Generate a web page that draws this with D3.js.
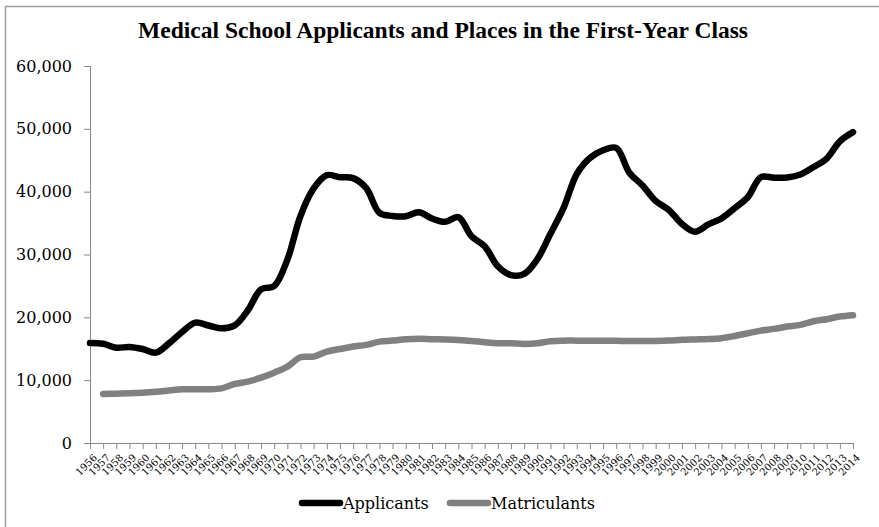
<!DOCTYPE html>
<html><head><meta charset="utf-8">
<script src="https://cdn.jsdelivr.net/npm/d3@7"></script>
<style>body{margin:0;background:#fff}svg{display:block}</style>
</head><body>
<script>
const years = d3.range(1956, 2015).map(String);
const applicants = [15918,15791,15170,15282,14952,14381,15847,17668,19168,18703,18250,18724,21118,24465,24987,29172,36135,40506,42624,42303,42155,40569,36636,36141,36100,36727,35730,35200,35944,32893,31323,28123,26721,26915,29243,33301,37410,42808,45360,46591,46968,43016,40996,38529,37092,34859,33625,34791,35735,37372,39108,42315,42231,42269,42742,43919,45266,48014,49480];
const matriculants = [null,7800,7850,7900,8000,8150,8350,8550,8550,8550,8700,9400,9780,10400,11200,12150,13650,13750,14550,14950,15350,15620,16140,16300,16520,16610,16530,16480,16400,16250,16040,15880,15870,15770,15880,16200,16290,16290,16290,16280,16260,16240,16240,16250,16300,16420,16480,16540,16680,17040,17470,17890,18160,18530,18800,19380,19700,20120,20340];
const yTicks = [0,10000,20000,30000,40000,50000,60000];
const title = "Medical School Applicants and Places in the First-Year Class";
const seriesNames = ["Applicants","Matriculants"];
const colors = ["#000000","#808080"];

const W=879,H=527;
const svg=d3.select("body").append("svg").attr("width",W).attr("height",H);
svg.append("rect").attr("x",5.5).attr("y",6.5).attr("width",W).attr("height",H).attr("fill","#fff").attr("stroke","#a0a0a0").attr("stroke-width",1.5);

const x=d3.scalePoint().domain(years).range([90,853]);
const y=d3.scaleLinear().domain([0,60000]).range([443,66]);

svg.append("text").attr("x",443).attr("y",38).attr("text-anchor","middle")
 .attr("font-family","Liberation Serif, serif").attr("font-weight","bold").attr("font-size",22.5)
 .attr("textLength",610).attr("lengthAdjust","spacingAndGlyphs")
 .text(title);

const ya=svg.append("g").attr("transform","translate(90,0)")
 .call(d3.axisLeft(y).tickValues(yTicks).tickSize(6).tickPadding(12).tickFormat(d3.format(",")));
ya.selectAll("path,line").attr("stroke","#888");
ya.selectAll("text").attr("font-family","DejaVu Serif, serif").attr("font-size",16).attr("fill","#000");

const xa=svg.append("g").attr("transform","translate(0,443)")
 .call(d3.axisBottom(x).tickSize(6).tickSizeOuter(0).tickPadding(2));
xa.selectAll("path,line").attr("stroke","#888");
xa.selectAll("text").attr("font-family","DejaVu Serif, serif").attr("font-size",10).attr("fill","#000")
 .attr("text-anchor","end").attr("transform","translate(-1,7) rotate(-45)").attr("dy","0.35em").attr("dx","0");

const line=d3.line().defined(d=>d[1]!=null).x(d=>x(d[0])).y(d=>y(d[1])).curve(d3.curveCatmullRom.alpha(0.5));
[applicants,matriculants].forEach((s,i)=>{
 svg.append("path").datum(years.map((yr,j)=>[yr,s[j]])).attr("d",line)
  .attr("fill","none").attr("stroke",colors[i]).attr("stroke-width",6.5).attr("stroke-linejoin","round").attr("stroke-linecap","round");
});

const leg=[{x:302,name:seriesNames[0],c:colors[0]},{x:450,name:seriesNames[1],c:colors[1]}];
leg.forEach(l=>{
 svg.append("line").attr("x1",l.x).attr("x2",l.x+38).attr("y1",503).attr("y2",503).attr("stroke",l.c).attr("stroke-width",6.5).attr("stroke-linecap","round");
 svg.append("text").attr("x",l.x+41).attr("y",509).attr("font-family","DejaVu Serif, serif").attr("font-size",16).text(l.name);
});
</script>
</body></html>
